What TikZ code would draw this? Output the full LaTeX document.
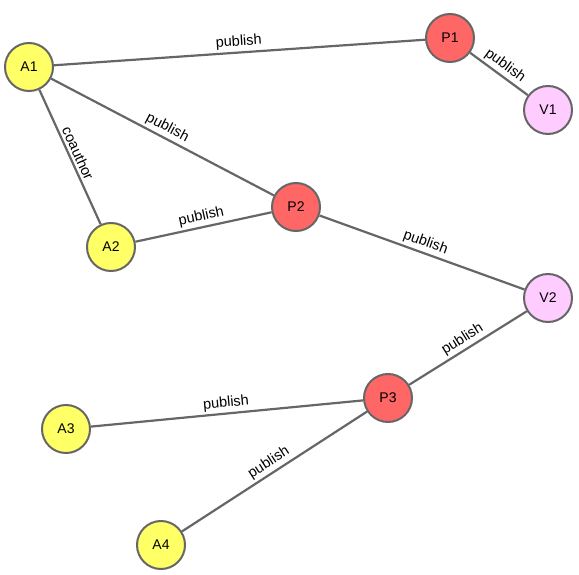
\documentclass[tikz,border=0pt]{standalone}
\usepackage{fontspec}
\setmainfont{Liberation Sans}
\definecolor{ayellow}{HTML}{FFFF66}
\definecolor{pred}{HTML}{FF6666}
\definecolor{vpink}{HTML}{FFCCFF}
\definecolor{edgegray}{HTML}{666666}
\begin{document}
\begin{tikzpicture}[x=1pt,y=-1pt,
  vert/.style={circle,draw=edgegray,line width=2pt,minimum size=48pt,inner sep=0pt,font=\fontsize{14}{16}\selectfont},
  auth/.style={vert,fill=ayellow},
  pap/.style={vert,fill=pred},
  ven/.style={vert,fill=vpink},
  link/.style={draw=edgegray,line width=2.2pt},
  lab/.style={midway,above,sloped,inner sep=2.5pt,font=\fontsize{14.5}{16}\selectfont}]
\useasboundingbox (0,0) rectangle (579,575);
\node[auth] (A1) at (29,67) {A1};
\node[pap]  (P1) at (450,38) {P1};
\node[ven]  (V1) at (548,110) {V1};
\node[auth] (A2) at (111,247) {A2};
\node[pap]  (P2) at (296,207) {P2};
\node[ven]  (V2) at (548,298) {V2};
\node[auth] (A3) at (66,429) {A3};
\node[pap]  (P3) at (388,398) {P3};
\node[auth] (A4) at (161,545) {A4};
\path[link] (A1) -- node[lab] {publish} (P1);
\path[link] (P1) -- node[lab] {publish} (V1);
\path[link] (A1) -- node[lab] {publish} (P2);
\path[link] (A1) -- node[lab] {coauthor} (A2);
\path[link] (A2) -- node[lab] {publish} (P2);
\path[link] (P2) -- node[lab] {publish} (V2);
\path[link] (P3) -- node[lab] {publish} (V2);
\path[link] (A3) -- node[lab] {publish} (P3);
\path[link] (A4) -- node[lab] {publish} (P3);
\end{tikzpicture}
\end{document}
